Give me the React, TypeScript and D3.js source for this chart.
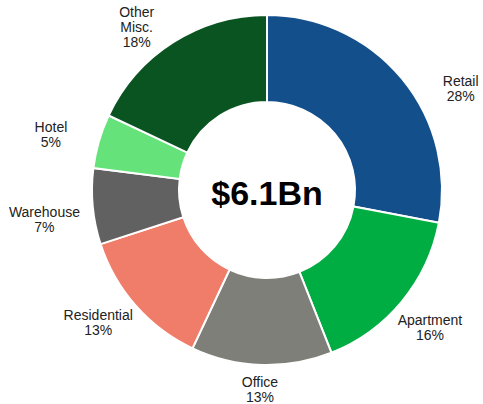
import React, { useRef, useEffect } from "react";
import * as d3 from "d3";

const categories = ["Retail", "Apartment", "Office", "Residential", "Warehouse", "Hotel", "Other Misc."];
const shares = [28, 16, 13, 13, 7, 5, 18];
const labelLines = [["Retail"], ["Apartment"], ["Office"], ["Residential"], ["Warehouse"], ["Hotel"], ["Other", "Misc."]];
const totalLabel = "$6.1Bn";

const COLORS = ["#124f8b", "#00ad42", "#7f7f7a", "#f07d69", "#616161", "#66e27a", "#0a5421"];

// small angular nudges (degrees) so labels sit where the source chart put them
const LABEL_SHIFT: Record<string, number> = { Retail: 9, Apartment: 4, Warehouse: -3, "Other Misc.": -3 };

const App = () => {
  const svgRef = useRef<SVGSVGElement>(null);

  useEffect(() => {
    const width = 483;
    const height = 404;
    const cx = 267;
    const cy = 190;
    const outerR = 175;
    const innerR = 88;

    const svg = d3.select(svgRef.current);
    svg.selectAll("*").remove();

    const data = categories.map((c, i) => ({ name: c, value: shares[i], lines: labelLines[i] }));

    const pie = d3.pie<any>().sort(null).value(d => d.value);
    const arc = d3.arc<any>().innerRadius(innerR).outerRadius(outerR);
    const color = d3.scaleOrdinal<string>().domain(categories).range(COLORS);

    const g = svg.append("g").attr("transform", `translate(${cx},${cy})`);
    const arcs = pie(data);

    g.selectAll("path")
      .data(arcs)
      .enter()
      .append("path")
      .attr("d", arc)
      .attr("fill", d => color(d.data.name))
      .attr("stroke", "#ffffff")
      .attr("stroke-width", 2);

    // labels on an ellipse around the ring
    const rx = 225;
    const ry = 200;
    const lineH = 15;
    arcs.forEach(a => {
      const mid = (a.startAngle + a.endAngle) / 2 + ((LABEL_SHIFT[a.data.name] || 0) * Math.PI) / 180;
      const lx = rx * Math.sin(mid);
      const ly = -ry * Math.cos(mid);
      const lines = [...a.data.lines, `${a.data.value}%`];
      const top = ly - ((lines.length - 1) * lineH) / 2;
      const t = g.append("text")
        .attr("text-anchor", "middle")
        .attr("font-family", "'Liberation Sans', Arial, sans-serif")
        .attr("font-size", 14)
        .attr("fill", "#222");
      lines.forEach((s, i) => {
        t.append("tspan")
          .attr("x", lx)
          .attr("y", top + i * lineH)
          .attr("dy", "0.35em")
          .text(s);
      });
    });

    g.append("text")
      .attr("text-anchor", "middle")
      .attr("x", 0)
      .attr("y", 3)
      .attr("dy", "0.35em")
      .attr("font-family", "'Liberation Sans', Arial, sans-serif")
      .attr("font-weight", "bold")
      .attr("font-size", 34)
      .attr("fill", "#000")
      .text(totalLabel);

    svg.attr("width", width).attr("height", height);
  }, []);

  return (
    <svg
      ref={svgRef}
      width={483}
      height={404}
      style={{ position: "absolute", left: 0, top: 0, background: "#fff" }}
    />
  );
};

export default App;
